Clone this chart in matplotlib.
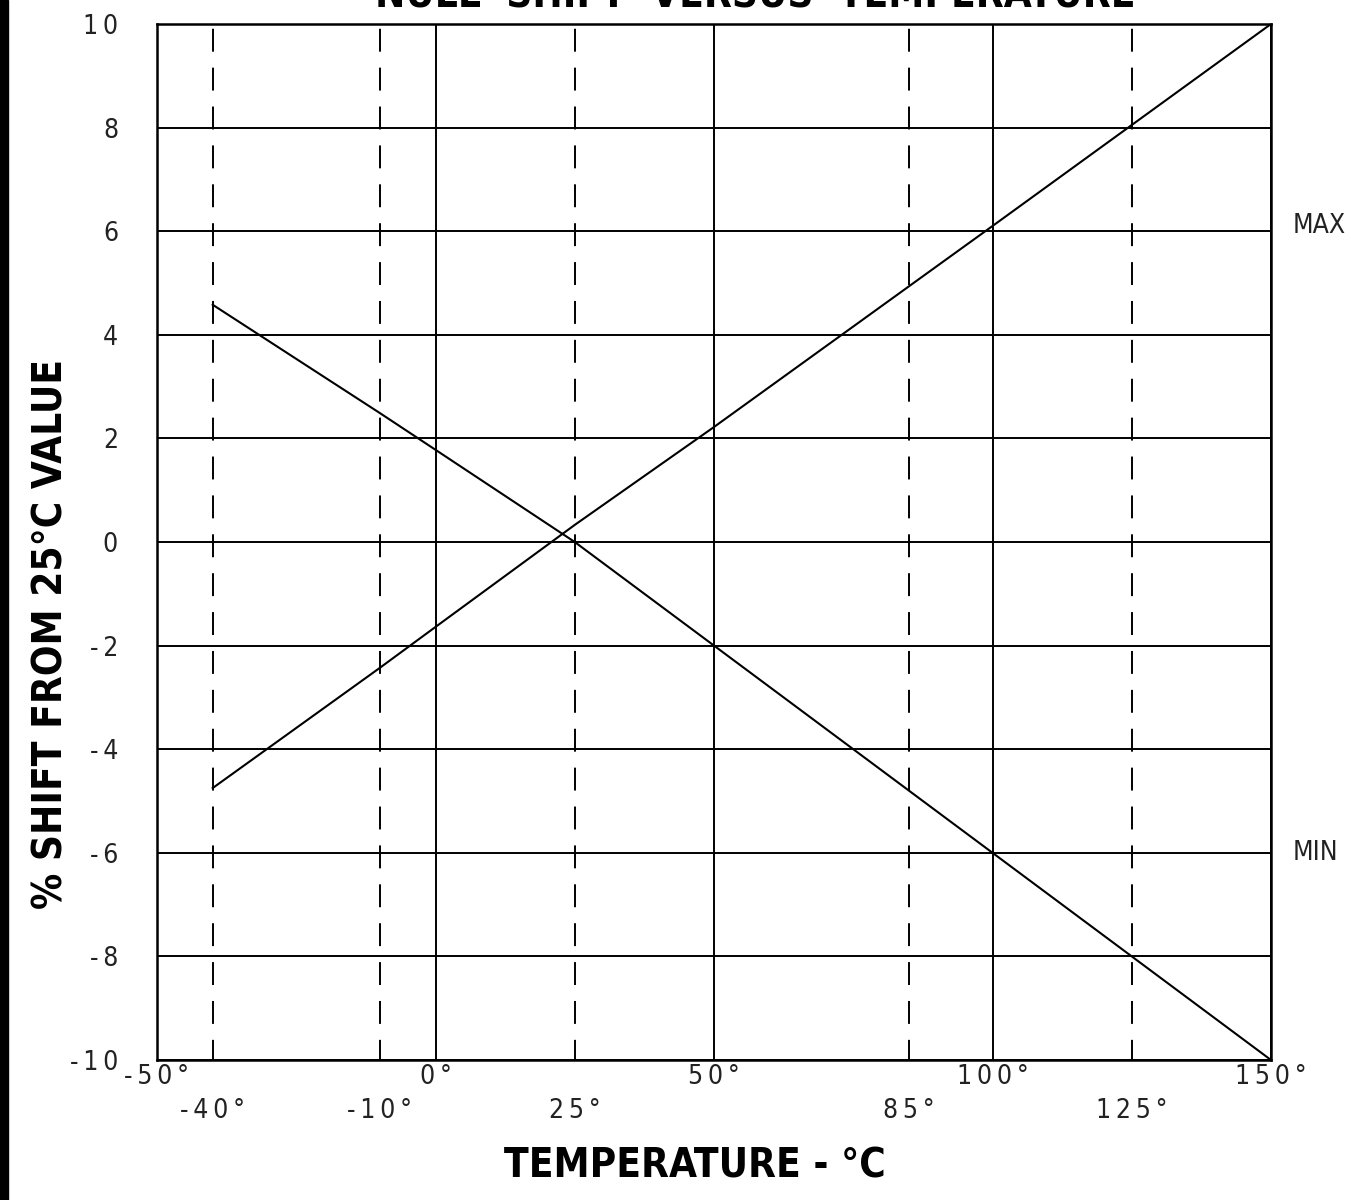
import matplotlib
matplotlib.use('Agg')
import matplotlib.pyplot as plt
from matplotlib.patches import Rectangle

# Null shift (% of 25 C value) at the marked temperatures
temp_max = [-40, -10, 0, 25, 50, 100, 125, 150]
shift_max = [-4.75, -2.43, -1.64, 0.33, 2.22, 6.1, 8.05, 10.0]
temp_min = [-40, -10, 0, 25, 50, 100, 125, 150]
shift_min = [4.58, 2.49, 1.78, 0.0, -2.0, -6.0, -8.0, -10.0]

# axis ticks (thin spaces between characters)
sp = '\u2009'
major_temps = [-50, 0, 50, 100, 150]
major_labels = [sp.join(s) for s in ['-50°', '0°', '50°', '100°', '150°']]
minor_temps = [-40, -10, 25, 85, 125]
minor_labels = [sp.join(s) for s in ['-40°', '-10°', '25°', '85°', '125°']]
shift_ticks = [-10, -8, -6, -4, -2, 0, 2, 4, 6, 8, 10]
shift_labels = [sp.join(str(v)) for v in shift_ticks]

thin = dict(family='DejaVu Sans', fontsize=19, fontstretch='condensed', color='#222222')
bold = dict(family='DejaVu Sans', fontsize=29, fontweight='bold', fontstretch='condensed')

plt.rcParams['lines.scale_dashes'] = False

fig = plt.figure(figsize=(13.51, 12), dpi=100)
ax = fig.add_axes([157 / 1351, 140 / 1200, 1114 / 1351, 1036 / 1200])

ax.plot(temp_max, shift_max, color='black', lw=1.5, zorder=3)
ax.plot(temp_min, shift_min, color='black', lw=1.5, zorder=3)

ax.set_xlim(-50, 150)
ax.set_ylim(-10, 10)

ax.set_xticks(major_temps, labels=major_labels)
ax.set_xticks(minor_temps, labels=minor_labels, minor=True)
ax.set_yticks(shift_ticks, labels=shift_labels)
ax.tick_params(which='both', length=0)
ax.tick_params(axis='x', which='major', pad=3)
ax.tick_params(axis='x', which='minor', pad=27)
ax.tick_params(axis='y', pad=28)
for lbl in ax.get_xticklabels(which='both') + ax.get_yticklabels():
    lbl.set(**thin)

ax.grid(True, which='major', color='black', lw=1.4)
ax.grid(True, which='minor', axis='x', color='black', lw=1.4,
        linestyle=(2, (16.5, 11.5)))

for s in ax.spines.values():
    s.set_linewidth(1.8)

# side labels for the two limit curves
ax.text(1.0197, 6.1, 'MAX', transform=ax.get_yaxis_transform(),
        ha='left', va='center', clip_on=False, **thin)
ax.text(1.0197, -6.0, 'MIN', transform=ax.get_yaxis_transform(),
        ha='left', va='center', clip_on=False, **thin)

fig.text(695 / 1351, 1 - 1167 / 1200, 'TEMPERATURE - °C',
         ha='center', va='center', **bold)
fig.text(52 / 1351, 1 - 634 / 1200, '% SHIFT FROM 25°C VALUE',
         ha='center', va='center', rotation=90, **bold)
fig.text(755 / 1351, 1 - 8 / 1200, 'NULL  SHIFT  VERSUS  TEMPERATURE',
         ha='center', va='baseline', **bold)

fig.patches.append(Rectangle((0, 0), 8 / 1351, 1, transform=fig.transFigure,
                             color='black', zorder=5))

fig.savefig('out.png', dpi=100, facecolor='white')
